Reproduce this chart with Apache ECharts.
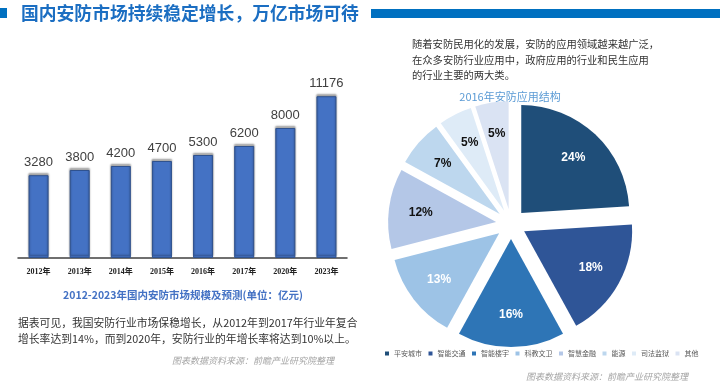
<!DOCTYPE html>
<html>
<head>
<meta charset="utf-8">
<script src="https://cdn.jsdelivr.net/npm/echarts@6/dist/echarts.min.js"></script>
<style>html,body{margin:0;padding:0;background:#fff}#c{width:720px;height:386px}</style>
</head>
<body>
<div id="c"></div>
<script>
// ---- data ----
const years = ['2012年','2013年','2014年','2015年','2016年','2017年','2020年','2023年'];
const marketSize = [3280, 3800, 4200, 4700, 5300, 6200, 8000, 11176];
const pieNames = ['平安城市','智能交通','智能楼宇','科教文卫','智慧金融','能源','司法监狱','其他'];
const pieValues = [24, 18, 16, 13, 12, 7, 5, 5];
const pieColors = ['#1F4E79','#2F5597','#2E75B6','#9DC3E6','#B4C7E7','#BDD7EE','#DEEBF7','#DAE3F3'];
const pieLabelColors = ['#fff','#fff','#fff','#fff','#111','#111','#111','#111'];
// the original value axis does not start at zero: its baseline sits at -5000
const AXIS_OFFSET = 5000;

const CJK = "'Noto Sans CJK SC'";
const chart = echarts.init(document.getElementById('c'), null, {renderer:'canvas'});

function txt(text, x, y, font, fill, align, extra) {
  return Object.assign({ type:'text', silent:true, style: { text, x, y, font, fill, align: align||'left', verticalAlign:'middle' } }, extra||{});
}

const pieSel = (colorsArr, labels) => pieNames.map((n,i)=>({
  name:n, value:pieValues[i], selected:true,
  itemStyle: colorsArr ? {color: colorsArr[i]} : {color:'rgba(0,0,0,0)'},
  label: labels ? {color: pieLabelColors[i]} : undefined
}));

const option = {
  animation:false,
  graphic: [
    { type:'rect', silent:true, shape:{x:0,y:8,width:7,height:10}, style:{fill:'#0070C0'} },
    txt('国内安防市场持续稳定增长，万亿市场可待', 21, 13, "bold 17.8px "+CJK, '#1B6EC2'),
    { type:'rect', silent:true, shape:{x:371,y:9,width:349,height:9}, style:{fill:'#0070C0'} },
    txt('2012-2023年国内安防市场规模及预测(单位：亿元)', 183, 295, "bold 10.5px "+CJK, '#4472C4','center'),
    txt('据表可见，我国安防行业市场保稳增长，从2012年到2017年行业年复合', 18, 323, "10.8px "+CJK, '#333'),
    txt('增长率达到14%，而到2020年，安防行业的年增长率将达到10%以上。', 18, 339, "10.8px "+CJK, '#333'),
    txt('图表数据资料来源：前瞻产业研究院整理', 253, 361, "italic 9px "+CJK, '#A6A6A6','center'),
    txt('随着安防民用化的发展，安防的应用领域越来越广泛，', 412, 44, "10.3px "+CJK, '#333'),
    txt('在众多安防行业应用中，政府应用的行业和民生应用', 412, 60, "10.3px "+CJK, '#333'),
    txt('的行业主要的两大类。', 412, 75, "10.3px "+CJK, '#333'),
    txt('2016年安防应用结构', 510, 97, "11px "+CJK, '#5B9BD5','center'),
    txt('图表数据资料来源：前瞻产业研究院整理', 607, 377, "italic 9px "+CJK, '#A6A6A6','center')
  ],
  grid: { left:18, right:373, top:88, bottom:128, containLabel:false },
  xAxis: {
    type:'category', data: years,
    axisLine:{ lineStyle:{ color:'#404040', width:1.5 } },
    axisTick:{ show:false },
    axisLabel:{ margin:10, fontSize:8, fontWeight:'bold', color:'#222', fontFamily:"'Liberation Serif', "+CJK }
  },
  yAxis: { type:'value', min:0, max:17000, show:false, splitLine:{show:false} },
  legend: {
    left:385, top:350, width:335, icon:'rect', itemWidth:4, itemHeight:4, itemGap:6.5, itemTextGap:3,
    selectedMode:false, padding:0,
    textStyle:{ fontSize:7, color:'#595959', fontFamily:CJK },
    data: pieNames.map((n,i)=>({ name:n, itemStyle:{color:pieColors[i]} }))
  },
  series: [
    {
      type:'bar', silent:true, barWidth:20,
      data: marketSize.map(v => v + AXIS_OFFSET),
      itemStyle:{ color:'#4472C4', borderColor:'#2F528F', borderWidth:1,
        shadowColor:'rgba(0,0,0,0.4)', shadowBlur:2, shadowOffsetY:-2 },
      label:{ show:true, position:'top', distance:6, fontSize:13, color:'#404040', fontFamily:"'Liberation Sans', Arial",
        formatter: p => String(marketSize[p.dataIndex]) }
    },
    {
      type:'pie', center:[511,224], radius:[0,108], startAngle:90, clockwise:true,
      selectedMode:'multiple', selectedOffset:15, silent:true,
      emphasis:{disabled:true},
      itemStyle:{ borderWidth:0 },
      select:{ itemStyle:{ borderWidth:0 } },
      label:{ show:false }, labelLine:{show:false},
      data: pieSel(pieColors, false)
    },
    {
      type:'pie', center:[511,224], radius:[38,108], startAngle:90, clockwise:true,
      selectedMode:'multiple', selectedOffset:15, silent:true,
      emphasis:{disabled:true},
      itemStyle:{ borderWidth:0 },
      select:{ itemStyle:{ borderWidth:0, color:'rgba(0,0,0,0)' } },
      label:{ show:true, position:'inside', fontSize:12, fontWeight:'bold', fontFamily:"'Liberation Sans', Arial",
        formatter:'{c}%' },
      labelLine:{show:false},
      data: pieSel(null, true)
    }
  ]
};
chart.setOption(option);
</script>
</body>
</html>
